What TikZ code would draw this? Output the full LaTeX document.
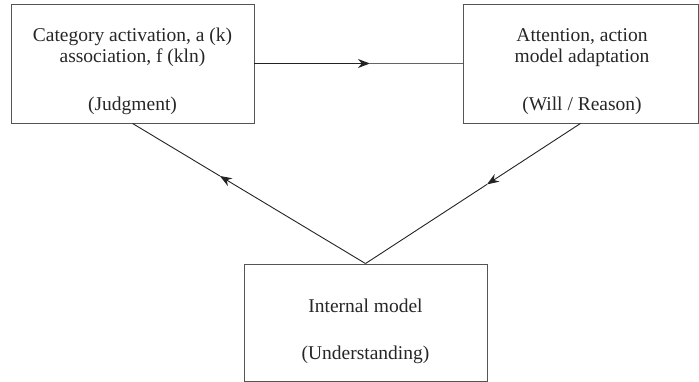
\documentclass[tikz,border=0pt]{standalone}
\usepackage{fontspec}
\setmainfont{Liberation Serif}
\usetikzlibrary{arrows.meta,calc}
\definecolor{boxgray}{RGB}{85,85,85}
\definecolor{linedark}{RGB}{35,35,35}
\definecolor{linegray}{RGB}{100,100,100}
\begin{document}
\begin{tikzpicture}[
    x=1pt, y=-1pt,
    >={Stealth[length=12pt, width=9pt]},
    every node/.style={font=\fontsize{19.5}{21}\selectfont, text=black!85},
    fbox/.style={
        draw=boxgray, line width=0.9pt,
        inner sep=0pt
    },
    lbl/.style={align=center, inner sep=0pt, anchor=base},
    darkln/.style={draw=linedark, line width=1.4pt},
    thinln/.style={draw=linegray, line width=0.9pt}
]
\useasboundingbox (0,0) rectangle (699,382);

% ----------------------------------------------------------
% Kaesten: Judgment | Will / Reason | Understanding
% ----------------------------------------------------------
\node[fbox, minimum width=243pt, minimum height=119pt] (cat)  at (132.5, 63.5)  {};
\node[fbox, minimum width=235pt, minimum height=119pt] (att)  at (580.5, 63.5)  {};
\node[fbox, minimum width=243pt, minimum height=117pt] (intm) at (365.5, 322.5) {};

% Beschriftung: Anker auf der Grundlinie der letzten Zeile
\node[lbl] (catlbl)  at (132.5, 111) {Category activation, a (k)\\association, f (kln)\\[27pt](Judgment)};
\node[lbl] (attlbl)  at (582, 111)   {Attention, action\\model adaptation\\[27pt](Will / Reason)};
\node[lbl] (intmlbl) at (365.5, 359) {Internal model\\[26pt](Understanding)};

% ----------------------------------------------------------
% Verbindungen mit Pfeilspitze in der Mitte
% ----------------------------------------------------------
\coordinate (hmid) at ($(cat.east)!0.555!(att.west)$);
\draw[darkln, ->] (cat.east) -- (hmid);
\draw[thinln] (hmid) -- (att.west);

\coordinate (lmid) at ($(intm.north)!0.625!(cat.south)$);
\draw[thinln, draw=linedark, ->] (intm.north) -- (lmid);
\draw[thinln, draw=linedark] (lmid) -- (cat.south);

\coordinate (rmid) at ($(att.south)!0.435!(intm.north)$);
\draw[thinln, draw=linedark, ->] (att.south) -- (rmid);
\draw[thinln, draw=linedark] (rmid) -- (intm.north);

\end{tikzpicture}
\end{document}
